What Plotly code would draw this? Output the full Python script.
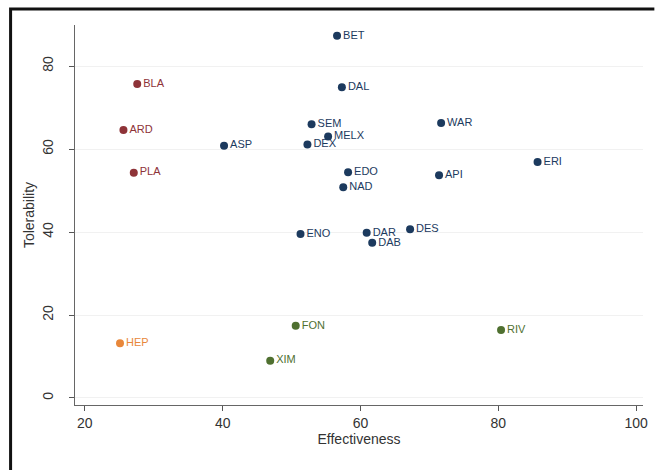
import plotly.graph_objects as go

# Treatments: effectiveness vs tolerability scores
labels = ["BET", "BLA", "DAL", "ARD", "SEM", "WAR", "MELX", "ASP", "DEX", "ERI",
          "PLA", "EDO", "API", "NAD", "ENO", "DAR", "DES", "DAB",
          "FON", "RIV", "HEP", "XIM"]
effectiveness = [56.6, 27.6, 57.3, 25.6, 52.9, 71.7, 55.3, 40.2, 52.3, 85.7,
                 27.1, 58.2, 71.4, 57.5, 51.3, 60.9, 67.2, 61.7,
                 50.6, 80.4, 25.1, 46.9]
tolerability = [87.3, 75.7, 74.9, 64.6, 66.0, 66.3, 63.0, 60.8, 61.1, 56.9,
                54.3, 54.4, 53.7, 50.8, 39.5, 39.8, 40.7, 37.4,
                17.4, 16.4, 13.2, 9.0]
groups = ["a", "b", "a", "b", "a", "a", "a", "a", "a", "a",
          "b", "a", "a", "a", "a", "a", "a", "a",
          "c", "c", "d", "c"]

group_colors = {"a": "#1c3a5e", "b": "#8e3338", "c": "#4f7030", "d": "#e8873a"}

x_ticks = [20, 40, 60, 80, 100]
y_ticks = [0, 20, 40, 60, 80]

label_font = "Liberation Sans Narrow, Arial Narrow, Liberation Sans, sans-serif"

fig = go.Figure()
for g, col in group_colors.items():
    idx = [i for i, gg in enumerate(groups) if gg == g]
    fig.add_trace(go.Scatter(
        x=[effectiveness[i] for i in idx],
        y=[tolerability[i] for i in idx],
        text=[labels[i] for i in idx],
        mode="markers+text",
        textposition="middle right",
        marker=dict(size=8, color=col),
        textfont=dict(family=label_font, size=11, color=col),
        showlegend=False,
        cliponaxis=False,
    ))

axis_font = dict(family=label_font, size=14, color="#333333")

fig.update_layout(
    width=655, height=470,
    margin=dict(l=75, r=7, t=25, b=65),
    paper_bgcolor="white",
    plot_bgcolor="white",
    xaxis=dict(
        range=[18.57, 101.0],
        tickvals=x_ticks,
        ticks="outside", ticklen=5, tickcolor="#555555",
        showline=True, linecolor="#666666", linewidth=1,
        showgrid=False, zeroline=False,
        tickfont=axis_font,
        title=dict(text="Effectiveness", font=axis_font, standoff=4),
    ),
    yaxis=dict(
        range=[-1.69, 89.9],
        tickvals=y_ticks,
        ticks="outside", ticklen=5, tickcolor="#555555",
        tickangle=-90,
        ticklabelstandoff=10,
        showline=True, linecolor="#666666", linewidth=1,
        showgrid=True, gridcolor="#f1f1f1", gridwidth=1,
        zeroline=False,
        tickfont=axis_font,
        title=dict(text="Tolerability", font=axis_font, standoff=2),
    ),
    shapes=[dict(
        type="path", xref="paper", yref="paper",
        path="M -0.1134 -0.171 L -0.1134 1.042 L 1.02 1.042",
        line=dict(color="#111111", width=3),
    )],
)

fig.write_html("out.html")
